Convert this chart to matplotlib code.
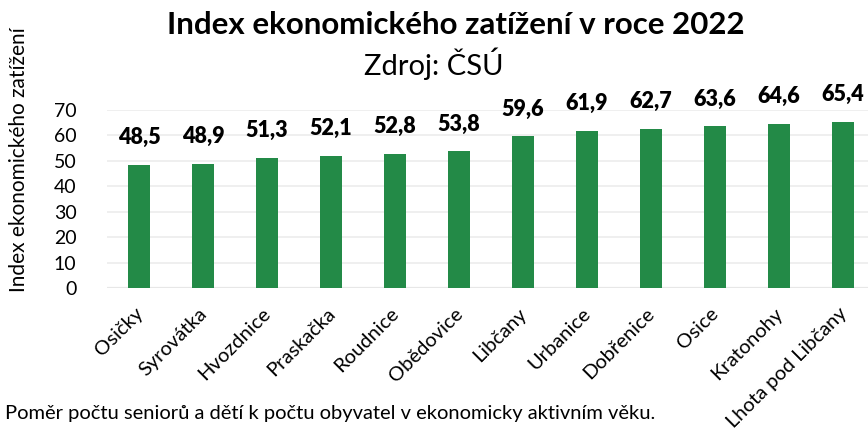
import matplotlib.pyplot as plt
import matplotlib.transforms as mtransforms

plt.rcParams['font.family'] = ['Lato', 'DejaVu Sans']

obce = ['Osičky', 'Syrovátka', 'Hvozdnice', 'Praskačka', 'Roudnice', 'Obědovice',
        'Libčany', 'Urbanice', 'Dobřenice', 'Osice', 'Kratonohy', 'Lhota pod Libčany']
index = [48.5, 48.9, 51.3, 52.1, 52.8, 53.8, 59.6, 61.9, 62.7, 63.6, 64.6, 65.4]

fig = plt.figure(figsize=(8.68, 4.32), dpi=100)
# axes run past the right edge, as in the original Excel export
ax = fig.add_axes([107 / 868, 1 - 288 / 432, (875 - 107) / 868, (288 - 110) / 432])

x = range(len(obce))
ax.bar(x, index, width=0.33, color='#238a47', zorder=2)
for xi, v in zip(x, index):
    ax.text(xi, v + 6.5, f'{v:.1f}'.replace('.', ','), ha='center', va='bottom',
            fontsize=15.5, fontweight='heavy', clip_on=False)

ax.set_ylim(0, 70)
ax.set_xlim(-0.5, len(obce) - 0.5)
ax.set_yticks(range(0, 71, 10))
ax.yaxis.grid(True, color='#ececec', lw=1.2, zorder=0)
for s in ax.spines.values():
    s.set_visible(False)
ax.axhline(0, color='#d0d0d0', lw=1.5, zorder=1)
ax.tick_params(length=0, labelsize=14)
ax.tick_params(axis='y', pad=22)
ax.tick_params(axis='x', pad=12)
ax.set_xticks(list(x))
ax.set_xticklabels(obce, rotation=45, ha='right', rotation_mode='anchor', fontsize=14.5)
shift = mtransforms.ScaledTranslation(-5 / 100, 0, fig.dpi_scale_trans)
for lbl in ax.get_xticklabels():
    lbl.set_transform(lbl.get_transform() + shift)
ax.set_ylabel('Index ekonomického zatížení', fontsize=15)
ax.yaxis.set_label_coords(-78 / 768, 0.72)

fig.text(456 / 868, 1 - 25 / 432, 'Index ekonomického zatížení v roce 2022', ha='center',
         va='center', fontsize=22.5, fontweight='bold')
fig.text(434 / 868, 1 - 64 / 432, 'Zdroj: ČSÚ', ha='center', va='center', fontsize=21)
fig.text(5 / 868, 1 - 413 / 432, 'Poměr počtu seniorů a dětí k počtu obyvatel v ekonomicky aktivním věku.',
         ha='left', va='center', fontsize=14.5)

fig.savefig('out.png', dpi=100)
